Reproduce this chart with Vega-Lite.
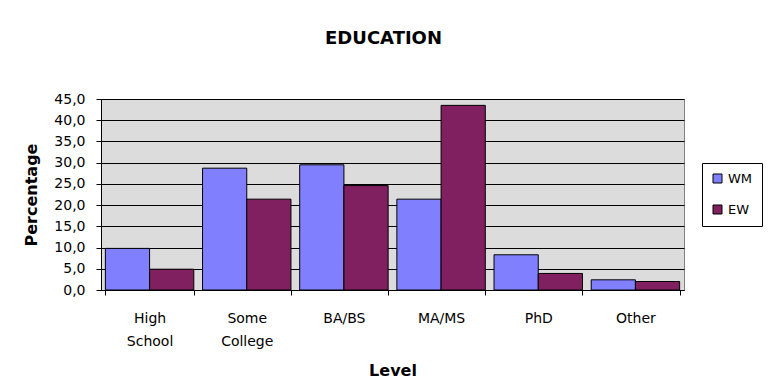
{
  "$schema": "https://vega.github.io/schema/vega-lite/v6.json",
  "width": 583,
  "height": 191,
  "autosize": {"type": "none"},
  "padding": {"left": 101, "top": 99, "right": 89, "bottom": 96},
  "background": "#ffffff",
  "title": {
    "text": "EDUCATION",
    "font": "DejaVu Sans",
    "fontSize": 18,
    "fontWeight": "bold",
    "color": "#000000",
    "anchor": "middle",
    "frame": "group",
    "dx": -9,
    "offset": 44
  },
  "data": {
    "values": [
      {"level": "High School", "group": "WM", "pct": 9.8},
      {"level": "High School", "group": "EW", "pct": 4.9},
      {"level": "Some College", "group": "WM", "pct": 28.7},
      {"level": "Some College", "group": "EW", "pct": 21.4},
      {"level": "BA/BS", "group": "WM", "pct": 29.5},
      {"level": "BA/BS", "group": "EW", "pct": 24.6},
      {"level": "MA/MS", "group": "WM", "pct": 21.4},
      {"level": "MA/MS", "group": "EW", "pct": 43.5},
      {"level": "PhD", "group": "WM", "pct": 8.3},
      {"level": "PhD", "group": "EW", "pct": 3.9},
      {"level": "Other", "group": "WM", "pct": 2.4},
      {"level": "Other", "group": "EW", "pct": 2.0}
    ]
  },
  "mark": {"type": "bar", "stroke": "#000000", "strokeWidth": 1},
  "encoding": {
    "x": {
      "field": "level",
      "type": "nominal",
      "sort": ["High School", "Some College", "BA/BS", "MA/MS", "PhD", "Other"],
      "scale": {"paddingInner": 0.09, "paddingOuter": 0.045},
      "axis": {
        "title": "Level",
        "titleFont": "DejaVu Sans",
        "titleFontSize": 16,
        "titleFontWeight": "bold",
        "titleColor": "#000000",
        "titlePadding": 14,
        "labelAngle": 0,
        "labelFont": "DejaVu Sans",
        "labelFontSize": 14,
        "labelColor": "#000000",
        "labelLineHeight": 23,
        "labelPadding": 16,
        "labelExpr": "split(datum.label, ' ')",
        "tickBand": "extent",
        "tickSize": 5,
        "tickColor": "#000000",
        "domainColor": "#000000",
        "grid": false
      }
    },
    "xOffset": {"field": "group", "type": "nominal", "sort": ["WM", "EW"], "scale": {"paddingInner": 0, "paddingOuter": 0}},
    "y": {
      "field": "pct",
      "type": "quantitative",
      "scale": {"domain": [0, 45], "nice": false},
      "axis": {
        "title": "Percentage",
        "titleFont": "DejaVu Sans",
        "titleFontSize": 16,
        "titleFontWeight": "bold",
        "titleColor": "#000000",
        "titlePadding": 14,
        "values": [0, 5, 10, 15, 20, 25, 30, 35, 40, 45],
        "labelExpr": "replace(format(datum.value, '.1f'), '.', ',')",
        "labelFont": "DejaVu Sans",
        "labelFontSize": 14,
        "labelColor": "#000000",
        "labelPadding": 11,
        "tickSize": 5,
        "tickColor": "#000000",
        "domainColor": "#000000",
        "grid": true,
        "gridColor": "#000000",
        "gridWidth": 1,
        "gridOpacity": 1
      }
    },
    "color": {
      "field": "group",
      "type": "nominal",
      "sort": ["WM", "EW"],
      "scale": {"domain": ["WM", "EW"], "range": ["#8080FF", "#802060"]},
      "legend": {
        "title": null,
        "orient": "none",
        "legendX": 601,
        "legendY": 64,
        "strokeColor": "#000000",
        "fillColor": "#ffffff",
        "padding": 9,
        "symbolType": "square",
        "symbolSize": 81,
        "symbolStrokeColor": "#000000",
        "symbolStrokeWidth": 1,
        "labelFont": "DejaVu Sans",
        "labelFontSize": 13,
        "labelColor": "#000000",
        "labelOffset": 4,
        "rowPadding": 17
      }
    }
  },
  "config": {
    "view": {"fill": "#DCDCDC", "stroke": "#808080", "strokeWidth": 1}
  }
}
